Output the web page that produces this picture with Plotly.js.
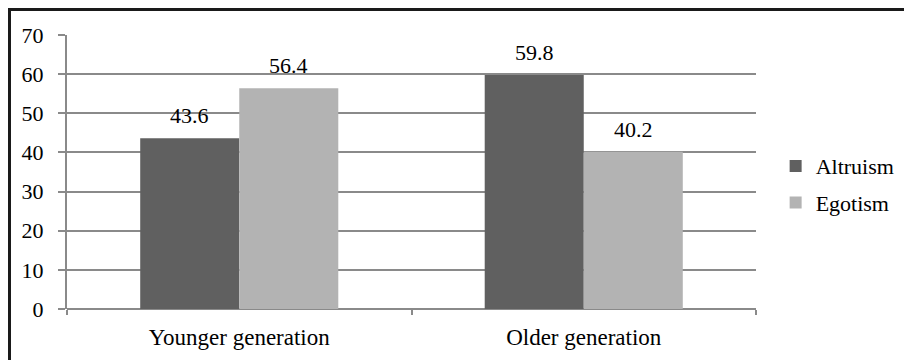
<!DOCTYPE html>
<html>
<head>
<meta charset="utf-8">
<script src="https://cdn.plot.ly/plotly-3.0.1.min.js"></script>
<style>
html,body{margin:0;padding:0;background:#fff;overflow:hidden;}
#wrap{position:relative;width:904px;height:360px;overflow:hidden;}
#chart{width:904px;height:360px;}
#frame{position:absolute;left:8px;top:8px;width:1200px;height:1200px;border-top:3px solid #1a1a1a;border-left:3px solid #1a1a1a;pointer-events:none;}
</style>
</head>
<body>
<div id="wrap"><div id="chart"></div><div id="frame"></div></div>
<script>
const categories = ["Younger generation", "Older generation"];
const seriesNames = ["Altruism", "Egotism"];
const altruism = [43.6, 59.8];
const egotism = [56.4, 40.2];
const yTicks = [0, 10, 20, 30, 40, 50, 60, 70];

const colors = ["#606060", "#b3b3b3"];
const FONT = "Liberation Serif";
const bargap = 0.425;
const values = [altruism, egotism];

const traces = values.map((v, j) => ({
  type: "bar",
  name: seriesNames[j],
  x: categories,
  y: v,
  marker: {color: colors[j], line: {width: 0}},
  legendgroup: "g" + j,
  hoverinfo: "none"
}));

const annotations = [];
values.forEach((v, j) => {
  v.forEach((val, i) => {
    annotations.push({
      xref: "x", yref: "y",
      x: i + (j - 0.5) * (1 - bargap) / 2,
      y: val,
      text: String(val),
      showarrow: false,
      yanchor: "bottom",
      yshift: 8,
      font: {family: FONT, size: 22, color: "#000"}
    });
  });
});

const layout = {
  width: 904, height: 360,
  margin: {l: 67, r: 148, t: 35, b: 51, pad: 0},
  paper_bgcolor: "#fff", plot_bgcolor: "#fff",
  barmode: "group", bargap: bargap, bargroupgap: 0,
  showlegend: true,
  legend: {
    xref: "container", yref: "container",
    x: 0.858, xanchor: "left", y: 0.597, yanchor: "top",
    font: {family: FONT, size: 22, color: "#000"},
    traceorder: "grouped", tracegroupgap: 5,
    itemwidth: 30, bgcolor: "rgba(0,0,0,0)"
  },
  xaxis: {
    type: "category",
    tickson: "boundaries",
    ticks: "outside", ticklen: 5, tickcolor: "#8a8a8a", tickwidth: 2,
    showline: false, showgrid: false, zeroline: false,
    ticklabelstandoff: 12,
    tickfont: {family: FONT, size: 23, color: "#000"}
  },
  yaxis: {
    range: [0, 70], tickvals: yTicks, ticktext: yTicks.map(String),
    ticks: "outside", ticklen: 7, tickcolor: "#8a8a8a", tickwidth: 2,
    showline: true, linecolor: "#8a8a8a", linewidth: 2,
    showgrid: true, gridcolor: "#8a8a8a", gridwidth: 2,
    zeroline: true, zerolinecolor: "#8a8a8a", zerolinewidth: 2,
    ticklabelstandoff: 10,
    tickfont: {family: FONT, size: 22, color: "#000"}
  },
  annotations: annotations
};

Plotly.newPlot("chart", traces, layout, {displayModeBar: false, staticPlot: true});
</script>
</body>
</html>
